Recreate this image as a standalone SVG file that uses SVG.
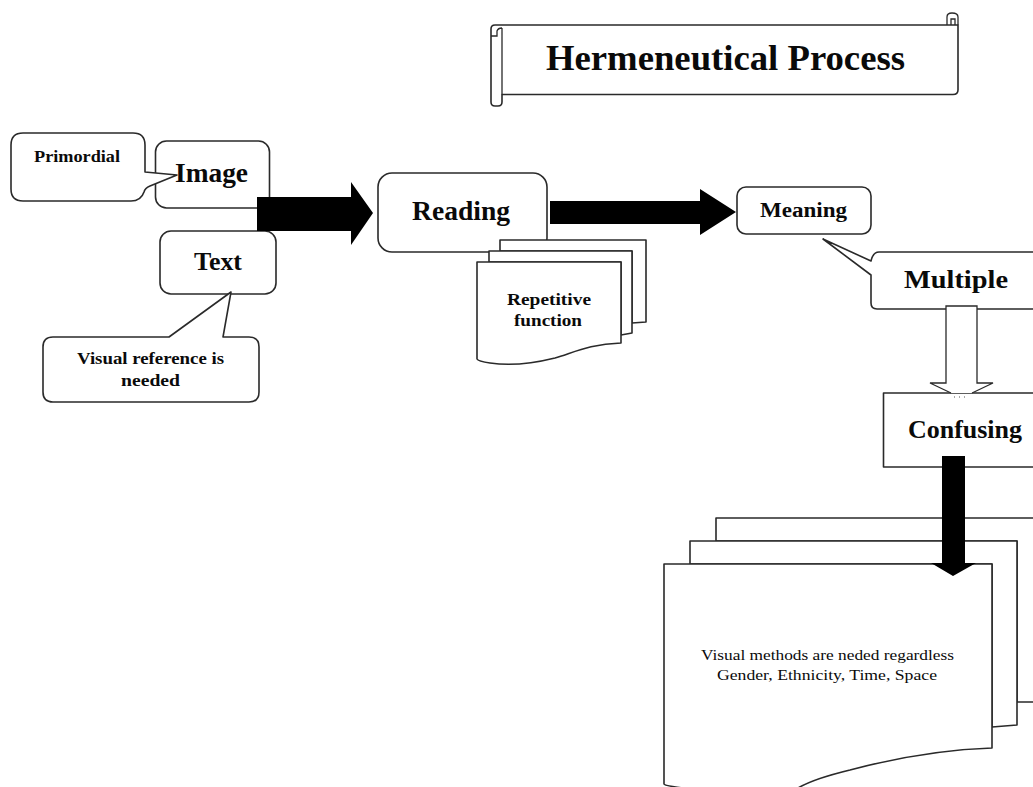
<svg xmlns="http://www.w3.org/2000/svg" width="1033" height="787" viewBox="0 0 1033 787">
<style>
.s{fill:#fff;stroke:#2a2a2a;stroke-width:1.6;stroke-linejoin:round}
.n{fill:none;stroke:#2a2a2a;stroke-width:1.3}
.a{fill:#000;stroke:none}
text{font-family:"Liberation Serif","Times New Roman",serif;font-weight:bold;fill:#0a0a0a;text-anchor:start}
.r{font-weight:normal}
</style>
<rect width="1033" height="787" fill="#fff"/>
<g id="title">
<path class="s" d="M495 25H958V90Q958 94.500 953 94.500H502V102Q502 106 498 106H495Q491 106 491 102V29Q491 25 495 25Z"/>
<path class="n" d="M491 36H497V31Q498 28 502 28M502 28V94.500M947 25V17Q947 13 952 13Q958 13 958 17V25M951 25V19H955V25"/>
<text x="546" y="70" font-size="36" textLength="359" lengthAdjust="spacingAndGlyphs">Hermeneutical Process</text>
</g>
<g id="image">
<rect class="s" x="155.500" y="141" width="114" height="67" rx="11"/>
<g id="primordial">
<path class="s" d="M23 133H133Q145 133 145 145V172L177 175L150 186Q145 188 144 192Q141 201 131 201H23Q11 201 11 189V145Q11 133 23 133Z"/>
<text x="34" y="162" font-size="16" textLength="86" lengthAdjust="spacingAndGlyphs">Primordial</text>
</g>
<text x="175" y="182" font-size="28" textLength="73" lengthAdjust="spacingAndGlyphs">Image</text>
</g>
<g id="text-node">
<rect class="s" x="160" y="231" width="116" height="63" rx="11"/>
<text x="194" y="270" font-size="25" textLength="48" lengthAdjust="spacingAndGlyphs">Text</text>
</g>
<g id="visual-reference">
<path class="s" d="M53 337H169L231 292L223 337H249Q259 337 259 347V392Q259 402 249 402H53Q43 402 43 392V347Q43 337 53 337Z"/>
<text x="77" y="364" font-size="16.500" textLength="147" lengthAdjust="spacingAndGlyphs">Visual reference is</text>
<text x="121" y="386" font-size="16.500" textLength="59" lengthAdjust="spacingAndGlyphs">needed</text>
</g>
<g id="reading">
<rect class="s" x="378" y="173" width="169" height="79" rx="14"/>
<text x="412" y="220" font-size="28" textLength="98" lengthAdjust="spacingAndGlyphs">Reading</text>
</g>
<g id="repetitive-function">
<path class="s" d="M500 240H646V322L632 323V251H500Z"/>
<path class="s" d="M489 251H632V333L621 335V262H489Z"/>
<path class="s" d="M477 262H621V343C590 344 575 352 555 358C535 363 510 366 490 363C483 362 478 361 477 359Z"/>
<text x="507" y="305" font-size="16.500" textLength="84" lengthAdjust="spacingAndGlyphs">Repetitive</text>
<text x="514" y="326" font-size="16.500" textLength="68" lengthAdjust="spacingAndGlyphs">function</text>
</g>
<g id="meaning">
<rect class="s" x="737" y="187" width="134" height="47" rx="9"/>
<text x="760" y="217" font-size="20" textLength="87" lengthAdjust="spacingAndGlyphs">Meaning</text>
</g>
<g id="multiple">
<path class="s" d="M1034 252H879Q873 252 871 261L823 239L871 275V303Q871 309 877 309H1034Z"/>
<text x="904" y="288" font-size="26" textLength="104" lengthAdjust="spacingAndGlyphs">Multiple</text>
</g>
<g id="confusing">
<rect class="s" x="883.500" y="393" width="152" height="74"/>
<text x="908" y="438" font-size="25" textLength="114" lengthAdjust="spacingAndGlyphs">Confusing</text>
</g>
<g id="visual-methods">
<path class="s" d="M716 518H1035V702H1017V541H716Z"/>
<path class="s" d="M690 541H1017V725L992 727V564H690Z"/>
<path class="s" d="M664 564H992V748C930 750 880 762 850 770C825 776 810 781 798 788H682C672 786 665 786 664 784Z"/>
<text class="r" x="701" y="660" font-size="15.500" textLength="253" lengthAdjust="spacingAndGlyphs">Visual methods are neded regardless</text>
<text class="r" x="717" y="680" font-size="15.500" textLength="220" lengthAdjust="spacingAndGlyphs">Gender, Ethnicity, Time, Space</text>
</g>
<g id="connectors">
<path class="a" d="M257 197H351V182L373 213L351 245V231H257Z"/>
<path class="a" d="M550 201H700V189L736 212L700 235V224H550Z"/>
<path d="M946 306H977V383H993L972 393H951L930 383H946Z" fill="#fff" stroke="none"/>
<path class="n" d="M951 393L930 383H946V306H977V383H993L972 393" stroke-width="1.400"/>
<path d="M954 397H968" fill="none" stroke="#555" stroke-width="1" stroke-dasharray="1 4"/>
<path class="a" d="M942 456H965V563H976L953 576L931 563H942Z"/>
</g>
</svg>
